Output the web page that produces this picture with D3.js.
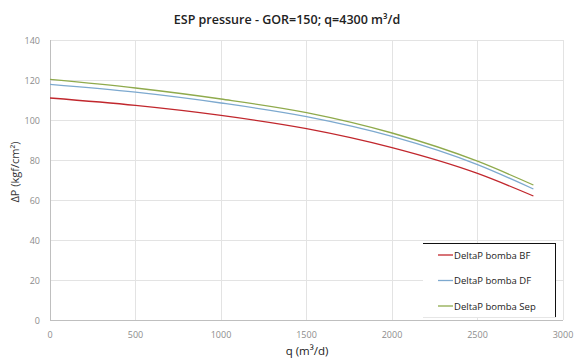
<!DOCTYPE html>
<html>
<head>
<meta charset="utf-8">
<title>ESP pressure</title>
<script src="https://cdnjs.cloudflare.com/ajax/libs/d3/7.8.5/d3.min.js"></script>
<style>
  body { margin: 0; background: #fff; }
  svg { display: block; font-family: "Open Sans", "DejaVu Sans", sans-serif; }
</style>
</head>
<body>
<svg width="574" height="358"></svg>
<script>
// data
var q = [0, 500, 1000, 1500, 2000, 2500, 2827];
var bombaBF = [111, 107.3, 102.3, 95.7, 86.2, 73.3, 62];
var bombaDF = [117.8, 113.9, 108.5, 101.7, 91.8, 77.7, 65.5];
var bombaSep = [120.3, 116, 110.5, 103.7, 93.5, 79.4, 67.5];
var seriesNames = ["DeltaP bomba BF", "DeltaP bomba DF", "DeltaP bomba Sep"];
var seriesColors = ["#c1272d", "#7da9cf", "#8faa4c"];
var xTicks = [0, 500, 1000, 1500, 2000, 2500, 3000];
var yTicks = [0, 20, 40, 60, 80, 100, 120, 140];

var svg = d3.select("svg");
var mLeft = 50, mRight = 563, mTop = 40, mBottom = 320;

var x = d3.scaleLinear().domain([0, 3000]).range([mLeft, mRight]);
var y = d3.scaleLinear().domain([0, 140]).range([mBottom, mTop]);

// gridlines
svg.append("g").selectAll("line").data(yTicks).enter().append("line")
  .attr("x1", mLeft).attr("x2", mRight)
  .attr("y1", function(d) { return y(d); }).attr("y2", function(d) { return y(d); })
  .attr("stroke", function(d) { return d == 0 ? "#bfbfbf" : "#e3e3e3"; })
  .attr("stroke-width", 1).attr("shape-rendering", "crispEdges");

svg.append("g").selectAll("line").data(xTicks).enter().append("line")
  .attr("y1", mTop).attr("y2", mBottom)
  .attr("x1", function(d) { return x(d); }).attr("x2", function(d) { return x(d); })
  .attr("stroke", function(d) { return d == 0 ? "#bfbfbf" : "#e3e3e3"; })
  .attr("stroke-width", 1).attr("shape-rendering", "crispEdges");

// tick labels
svg.append("g").selectAll("text").data(yTicks).enter().append("text")
  .attr("x", mLeft - 10).attr("y", function(d) { return y(d) + 3.5; })
  .attr("text-anchor", "end").attr("font-size", 9).attr("fill", "#8c8c8c")
  .text(function(d) { return d; });

svg.append("g").selectAll("text").data(xTicks).enter().append("text")
  .attr("x", function(d) { return x(d); }).attr("y", mBottom + 18)
  .attr("text-anchor", "middle").attr("font-size", 9).attr("fill", "#8c8c8c")
  .text(function(d) { return d; });

// curves
var allSeries = [bombaBF, bombaDF, bombaSep];
var line = d3.line()
  .x(function(d, i) { return x(q[i]); })
  .y(function(d) { return y(d); })
  .curve(d3.curveMonotoneX);

allSeries.forEach(function(s, i) {
  svg.append("path").datum(s)
    .attr("d", line)
    .attr("fill", "none")
    .attr("stroke", seriesColors[i])
    .attr("stroke-width", 1.3);
});

// title and axis labels
svg.append("text").attr("x", 287).attr("y", 24)
  .attr("text-anchor", "middle").attr("font-size", 12.5).attr("font-weight", 600)
  .attr("fill", "#222").text("ESP pressure - GOR=150; q=4300 m³/d");

svg.append("text").attr("x", 307).attr("y", 355)
  .attr("text-anchor", "middle").attr("font-size", 11.5).attr("fill", "#222")
  .text("q (m³/d)");

svg.append("text").attr("transform", "translate(19,172) rotate(-90)")
  .attr("text-anchor", "middle").attr("font-size", 11).attr("fill", "#333")
  .text("ΔP (kgf/cm²)");

// legend
var lg = svg.append("g");
lg.append("rect").attr("x", 423).attr("y", 243).attr("width", 133).attr("height", 75)
  .attr("fill", "#fff").attr("stroke", "none");
lg.append("line").attr("x1", 423).attr("x2", 556).attr("y1", 243.5).attr("y2", 243.5)
  .attr("stroke", "#111");
lg.append("line").attr("x1", 555.5).attr("x2", 555.5).attr("y1", 243).attr("y2", 318)
  .attr("stroke", "#111");
lg.append("line").attr("x1", 423).attr("x2", 556).attr("y1", 317.5).attr("y2", 317.5)
  .attr("stroke", "#e6e6e6");

seriesNames.forEach(function(n, i) {
  var yy = 255 + i * 25.5;
  lg.append("line").attr("x1", 438).attr("x2", 453).attr("y1", yy).attr("y2", yy)
    .attr("stroke", seriesColors[i]).attr("stroke-width", 1.3);
  lg.append("text").attr("x", 454).attr("y", yy + 3.5)
    .attr("font-size", 9.5).attr("fill", "#222").text(n);
});
</script>
</body>
</html>
